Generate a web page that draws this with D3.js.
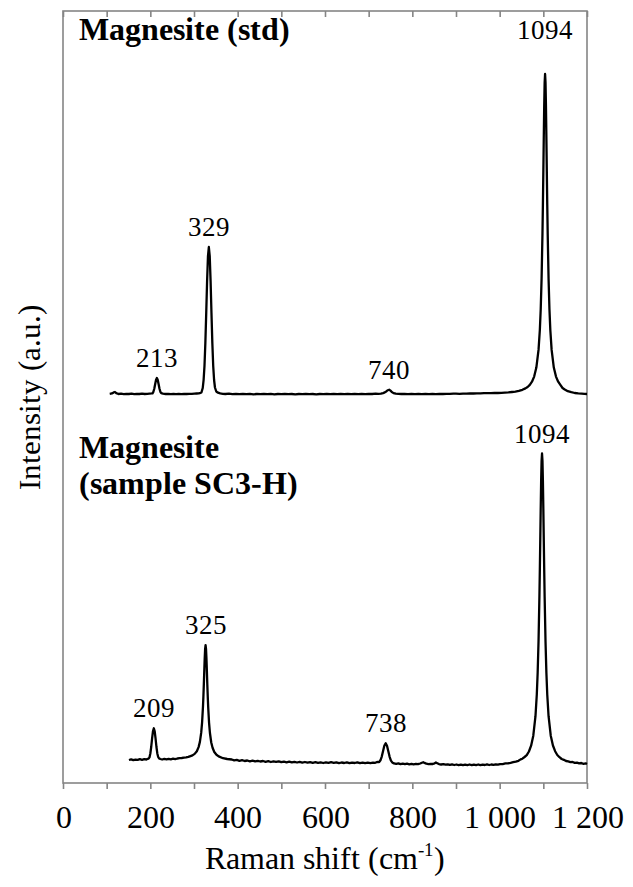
<!DOCTYPE html>
<html><head><meta charset="utf-8">
<script src="https://cdn.jsdelivr.net/npm/d3@7"></script>
<style>
body{margin:0;background:#fff}
@font-face{font-family:"ChartSerif";src:local("Liberation Serif"),local("LiberationSerif"),local("LiberationSerif-Regular");font-weight:400}
@font-face{font-family:"ChartSerif";src:local("Liberation Serif Bold"),local("LiberationSerif-Bold");font-weight:700}
</style>
</head><body>
<svg id="chart" width="633" height="887" style="font-family:'Liberation Serif',serif"></svg>
<script>
// ---------------- DATA ----------------
// x axis
const xTicks = [0,100,200,300,400,500,600,700,800,900,1000,1100,1200];
const xTickLabels = ["0","","200","","400","","600","","800","","1 000","","1 200"];
const xTitle = "Raman shift (cm";
const xTitleSup = "-1";
const yTitle = "Intensity (a.u.)";

// Magnesite (std): Raman shift (cm-1)
const stdShift = [107,112,116,119,122,127,133,139,145,151,157,163,169,175,181,187,193,198,203,205,207,209,211,213,215,217,219,221,223,225,229,235,241,247,253,259,265,271,277,283,289,295,301,306,311,315,317,320,322,324,326,328,330,332,334,336,338,340,342,344,346,348,351,355,360,366,372,380,388,396,404,412,420,428,436,444,452,460,468,476,484,492,500,508,516,524,532,540,548,556,564,572,580,588,596,604,612,620,628,636,644,652,660,668,676,684,692,700,708,716,722,728,733,737,741,744,747,750,753,757,762,768,775,782,790,798,806,814,822,830,838,846,854,862,870,878,886,894,900,908,916,924,932,940,948,956,964,972,980,988,996,1004,1012,1020,1028,1036,1044,1052,1059,1064,1069,1074,1079,1084,1089,1092,1094,1096,1098,1099,1100,1101,1102,1103,1104,1105,1106,1107,1108,1109,1110,1112,1114,1116,1119,1124,1129,1134,1139,1144,1149,1156,1164,1172,1180,1188,1194,1200];
// Magnesite (std): intensity (a.u., stacked)
const stdIntensity = [389.2,389.6,390.6,391.0,389.8,389.0,389.3,388.9,389.2,389.0,389.3,388.9,389.2,389.0,389.3,389.0,389.2,389.4,389.6,389.7,391.2,394.2,398.7,403.0,405.0,403.0,398.7,394.2,391.2,389.8,389.3,389.0,389.2,388.8,389.1,388.9,389.2,388.9,389.1,389.0,389.2,389.1,389.3,389.5,389.7,390.2,390.5,395.0,403.0,417.0,440.0,470.0,502.0,527.0,536.0,527.0,502.0,470.0,440.0,417.0,403.0,395.5,391.5,390.3,389.6,389.2,389.0,389.3,388.9,389.1,388.8,389.2,388.9,389.1,388.7,389.0,388.8,389.2,388.9,389.1,388.7,389.0,388.8,389.1,388.8,389.0,388.7,389.0,388.8,389.1,388.8,389.0,388.7,389.0,388.8,389.1,388.9,389.2,388.9,389.1,388.8,389.1,388.9,389.2,388.9,389.1,388.9,389.2,389.0,389.3,389.1,389.4,389.9,390.6,391.8,392.8,393.3,392.4,391.0,389.9,389.3,389.1,389.0,389.2,388.9,389.1,388.8,389.1,388.9,389.2,388.9,389.1,388.9,389.2,389.0,389.2,389.1,389.3,389.3,389.2,389.4,389.3,389.5,389.5,389.6,389.6,389.8,389.8,389.9,390.0,390.0,390.2,390.4,390.6,391.0,391.4,392.2,393.2,394.6,396.0,398.1,401.3,406.4,415.4,433.1,453.0,473.7,504.2,549.0,577.9,610.5,645.0,677.0,700.4,709.0,700.4,677.0,645.0,610.5,577.9,549.0,504.2,473.7,453.0,433.1,415.4,406.4,401.3,398.1,395.0,393.5,391.8,390.8,390.0,389.6,389.3,389.1,389.0];

// Magnesite (sample SC3-H): Raman shift (cm-1)
const sampleShift = [151,156,161,166,171,176,181,186,191,194,196,198,200,202,204,206,208,210,212,214,216,218,220,223,227,232,237,242,247,252,257,262,267,272,277,282,287,292,296.5,301.5,306.5,310.5,313.5,316.5,318.5,320.5,321.5,322.5,323.5,324.5,325.5,326.5,327.5,328.5,329.5,330.5,331.5,332.5,334.5,336.5,339.5,342.5,346.5,351.5,356.5,366.5,376,386.5,392,398,404,410,416,422,428,434,440,446,452,458,464,470,476,482,488,494,500,506,512,518,524,530,536,542,548,554,560,566,572,578,584,590,596,602,608,614,620,626,632,638,644,650,656,662,668,674,680,686,692,698,704,710,715,718,721,724,727,730,733,736,739,742,745,748,751,754,758,763,768,773,778,783,788,793,798,803,808,813,818,822,825,828,832,837,842,847,851,854,857,861,866,871,876,881,886,891,896,901,906,911,916,921,926,931,936,941,946,951,956,961,966,971,976,981,986,991,996,1001,1007,1013,1019,1025,1031,1037,1043,1048,1052,1057,1062,1067,1072,1077,1082,1085,1087,1089,1091,1092,1093,1094,1095,1096,1097,1098,1099,1100,1101,1102,1103,1105,1107,1109,1112,1117,1122,1127,1132,1137,1142,1147,1152,1157,1162,1167,1172,1177,1182,1187,1192,1197,1200];
// Magnesite (sample SC3-H): intensity (a.u., stacked)
const sampleIntensity = [23.0,23.6,22.8,23.4,23.1,23.8,23.2,23.9,23.5,24.2,24.4,25.6,29.5,36.0,44.4,51.7,54.7,51.7,44.4,36.0,29.6,26.0,24.6,24.0,23.5,24.1,23.6,24.2,23.7,24.3,23.9,24.5,24.8,25.0,25.3,25.6,26.1,26.9,27.6,29.1,31.8,35.9,41.1,50.3,60.4,75.9,86.2,98.4,111.6,124.5,134.2,137.8,134.2,124.5,111.6,98.4,86.2,75.9,60.2,50.0,40.5,35.2,31.0,28.2,26.6,24.8,24.0,23.5,22.6,23.1,22.2,22.8,22.0,22.5,21.7,22.3,21.6,22.2,21.5,22.0,21.2,21.8,21.0,21.6,21.1,21.7,20.8,21.4,20.7,21.3,20.6,21.2,20.5,21.1,20.4,21.0,20.3,20.9,20.2,20.8,20.1,20.7,20.0,20.6,20.1,20.8,20.2,20.7,19.9,20.5,20.0,20.6,19.8,20.4,20.0,20.7,19.9,20.4,19.8,20.3,19.9,20.4,20.2,20.8,21.0,20.9,22.7,26.4,32.0,37.4,39.7,37.3,31.8,26.2,22.4,20.6,19.6,19.1,19.6,18.9,19.4,18.8,19.3,18.7,19.2,18.6,19.1,18.8,19.5,20.3,20.8,20.1,19.3,18.9,19.2,19.0,19.6,20.5,19.8,18.9,18.5,18.9,18.3,18.7,18.1,18.6,18.0,18.5,17.9,18.4,17.8,18.3,17.9,18.5,17.8,18.4,17.9,18.5,17.8,18.3,18.0,18.6,18.0,18.5,18.1,18.7,18.3,18.9,18.9,19.6,19.7,20.1,20.8,21.4,22.2,23.6,24.3,26.0,27.8,31.5,37.3,47.3,66.8,88.3,110.2,141.5,186.0,213.5,243.8,274.7,302.5,322.3,329.5,322.3,302.5,274.7,243.8,213.5,186.0,141.5,110.2,88.3,66.8,47.3,37.5,31.8,28.0,25.8,24.0,23.2,22.0,21.6,20.9,21.0,20.1,20.4,19.6,20.0,19.2,19.6,19.0];

// annotations
const stdName = ["Magnesite (std)"];
const sampleName = ["Magnesite", "(sample SC3-H)"];
const stdPeaks = [213, 329, 740, 1094];
const samplePeaks = [209, 325, 738, 1094];

// ---------------- CHART ----------------
const W = 633, H = 887;
const FONT_STACK = "ChartSerif, 'Liberation Serif', Tinos, 'Times New Roman', serif";
const margin = {left: 63, right: 46, top: 11, bottom: 104};
const svg = d3.select("#chart");
const x = d3.scaleLinear().domain([0, 1200]).range([margin.left, W - margin.right]);
const y = d3.scaleLinear().domain([0, 772]).range([H - margin.bottom, margin.top]);
const frameColor = "#858585";

// frame
svg.append("rect")
  .attr("x", x(0)).attr("y", y(772))
  .attr("width", x(1200) - x(0)).attr("height", y(0) - y(772))
  .attr("fill", "none").attr("stroke", frameColor).attr("stroke-width", 1.6);

// bottom axis
const gx = svg.append("g").attr("transform", `translate(0,${y(0)})`)
  .call(d3.axisBottom(x).tickValues(xTicks).tickSize(6).tickPadding(16)
    .tickFormat((d, i) => xTickLabels[i]));
gx.attr("font-family", null).attr("font-size", null);
gx.select(".domain").remove();
gx.selectAll(".tick line").attr("stroke", frameColor).attr("stroke-width", 1.6);
gx.selectAll(".tick text").attr("font-size", 32);

// top axis (inward ticks, no labels)
const gt = svg.append("g").attr("transform", `translate(0,${y(772)})`)
  .call(d3.axisTop(x).tickValues(xTicks).tickSize(-6).tickFormat(""));
gt.attr("font-family", null);
gt.select(".domain").remove();
gt.selectAll(".tick line").attr("stroke", frameColor).attr("stroke-width", 1.6);

// spectra
const line = d3.line().x(d => x(d[0])).y(d => y(d[1]));
const stdData = d3.zip(stdShift, stdIntensity);
const sampleData = d3.zip(sampleShift, sampleIntensity);
[stdData, sampleData].forEach(data => {
  svg.append("path").datum(data)
    .attr("d", line).attr("fill", "none").attr("stroke", "#000")
    .attr("stroke-width", 2.3).attr("stroke-linejoin", "round");
});

// peak labels placed above local maxima (the tallest std label is lifted to the title line)
function labelPeaks(data, peaks, lift) {
  peaks.forEach((p, i) => {
    const near = data.filter(d => Math.abs(d[0] - p) <= 20);
    const top = near.reduce((a, b) => (b[1] > a[1] ? b : a));
    svg.append("text")
      .attr("x", x(top[0])).attr("y", y(top[1]) - 11 - (lift[i] || 0))
      .attr("text-anchor", "middle").attr("font-size", 27)
      .text(p);
  });
}
labelPeaks(stdData, stdPeaks, [0, 0, 0, 24]);
labelPeaks(sampleData, samplePeaks, [0, 0, 0, 0]);

// series names
svg.append("text").attr("x", 79).attr("y", 40)
  .attr("font-size", 32).attr("font-weight", "bold").text(stdName[0]);
sampleName.forEach((s, i) => {
  svg.append("text").attr("x", 79).attr("y", 458 + i * 36)
    .attr("font-size", 32).attr("font-weight", "bold").text(s);
});

// axis titles
const xt = svg.append("text").attr("x", (x(0) + x(1200)) / 2).attr("y", 869)
  .attr("text-anchor", "middle").attr("font-size", 32);
xt.append("tspan").text(xTitle);
xt.append("tspan").attr("font-size", 19).attr("dy", -13).text(xTitleSup);
xt.append("tspan").attr("dy", 13).text(")");

svg.append("text")
  .attr("transform", `translate(40,${(y(0) + y(772)) / 2}) rotate(-90)`)
  .attr("text-anchor", "middle").attr("font-size", 31)
  .text(yTitle);

// serif face for every text (inline, important)
svg.selectAll("text, tspan")
  .style("font-family", FONT_STACK, "important")
  .style("fill", "#000", "important");
</script>
</body></html>
